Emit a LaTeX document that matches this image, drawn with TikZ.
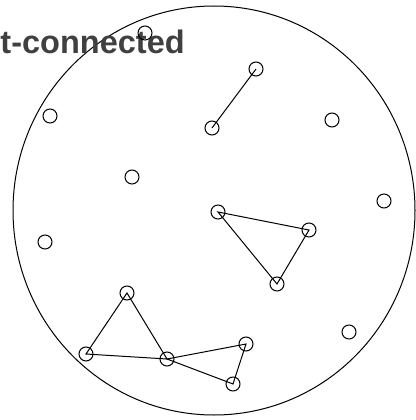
\documentclass[tikz,border=0pt]{standalone}
\usepackage{fontspec}
\setmainfont{Liberation Sans}
\usepackage{tikz}
\usetikzlibrary{positioning}
\definecolor{labelgray}{HTML}{404040}
\tikzset{pt/.style={circle,draw,line width=1pt,minimum size=14pt,inner sep=0pt}}

\begin{document}
\begin{tikzpicture}[x=1pt,y=-1pt,line width=1pt]
\useasboundingbox (0,0) rectangle (415,420);
\draw (214,210.5) ellipse [x radius=201,y radius=204.5];
\node[anchor=base west,inner sep=0pt,text=labelgray,font=\fontsize{32.5}{38}\selectfont\bfseries] (title) at (0,53) {t-connected};
\foreach \n/\x/\y in {a/145/33,b/256/69,c/50/116,d/212/128,e/332/120,f/132/177,
  g/384/201,h/218/212,i/309/230,j/45/242,k/277/284,l/127/293,m/349/332,
  n/86/354,o/167/359,p/246/344,q/233/384}
  \node[pt] (\n) at (\x,\y) {};
\draw (b.center)--(d.center);
\draw (h.center)--(i.center)--(k.center)--cycle;
\draw (l.center)--(n.center)--(o.center)--cycle;
\draw (o.center)--(p.center)--(q.center)--cycle;
\end{tikzpicture}
\end{document}
